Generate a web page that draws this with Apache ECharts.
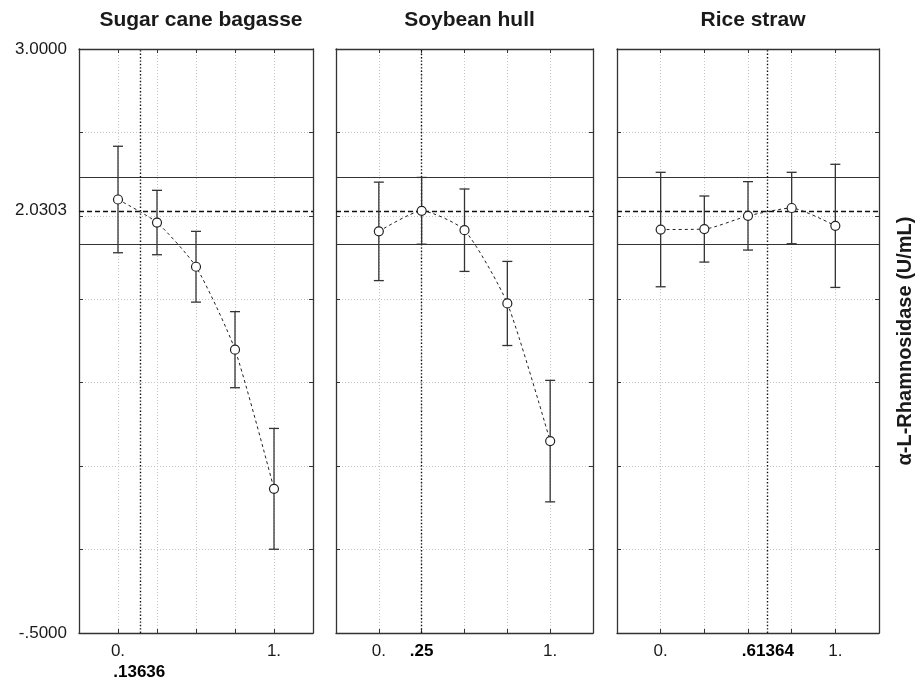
<!DOCTYPE html>
<html>
<head>
<meta charset="utf-8">
<script src="https://cdn.jsdelivr.net/npm/echarts@6/dist/echarts.min.js"></script>
<style>
  html, body { margin: 0; padding: 0; background: #fff; }
  #main { width: 916px; height: 686px; }
</style>
</head>
<body>
<div id="main"></div>
<script>
// mixture proportion of each component
const xLevels = [0, 0.25, 0.5, 0.75, 1];

// predicted activity and +/- half width of the interval, read from the profiles
const sugarMean = [2.098, 1.96, 1.695, 1.198, 0.364];
const sugarErr = [0.319, 0.193, 0.212, 0.228, 0.362];
const soyMean = [1.907, 2.0303, 1.914, 1.475, 0.65];
const soyErr = [0.295, 0.2, 0.247, 0.252, 0.364];
const riceMean = [1.918, 1.921, 2.0, 2.047, 1.94];
const riceErr = [0.343, 0.198, 0.205, 0.214, 0.369];

const panelNames = ["Sugar cane bagasse", "Soybean hull", "Rice straw"];
const optimum = [0.13636, 0.25, 0.61364];
const optimumText = [".13636", ".25", ".61364"];
const optimumValue = 2.0303;
const optimumCI = 0.2;

const yTickValues = [-0.5, 2.0303, 3.0];
const yTickText = ["-.5000", "2.0303", "3.0000"];

const means = [sugarMean, soyMean, riceMean];
const errs = [sugarErr, soyErr, riceErr];

// layout of the three panels
const grids = [
  { left: 79, top: 49, width: 234, height: 584 },
  { left: 336, top: 49, width: 257, height: 584 },
  { left: 617, top: 49, width: 262, height: 584 },
];

const txt = "#1a1a1a";
const font = "Liberation Sans, Arial, sans-serif";
const frame = { show: true, onZero: false, lineStyle: { color: "#333", width: 1.3 } };
const tick = { show: true, inside: true, length: 4, lineStyle: { color: "#333" } };
const grid_line = { show: true, showMinLine: false, showMaxLine: false, lineStyle: { color: "#c4c4c4", type: [1, 2], width: 1 } };

let chart = echarts.init(document.getElementById("main"));

let xAxes = [];
let yAxes = [];
let series = [];
let titles = [];

grids.forEach(function (g, i) {
  titles.push({
    text: panelNames[i],
    left: g.left + g.width / 2,
    top: 5,
    textAlign: "center",
    textStyle: { fontFamily: font, fontSize: 21, fontWeight: "bold", color: txt },
  });

  // bottom x axis with labels
  xAxes.push({
    type: "value",
    gridIndex: i,
    min: -0.25,
    max: 1.25,
    interval: 0.25,
    axisLine: frame,
    axisTick: tick,
    splitLine: grid_line,
    axisLabel: {
      customValues: [0, 1],
      margin: 10,
      fontFamily: font,
      fontSize: 17,
      color: txt,
      formatter: function (v) { return v === 0 ? "0." : "1."; },
    },
  });
  // top x axis, ticks only
  xAxes.push({
    type: "value",
    gridIndex: i,
    position: "top",
    min: -0.25,
    max: 1.25,
    interval: 0.25,
    axisLine: frame,
    axisTick: tick,
    splitLine: { show: false },
    axisLabel: { show: false },
  });
  // bottom axis carrying only the optimum label
  xAxes.push({
    type: "value",
    gridIndex: i,
    position: "bottom",
    min: -0.25,
    max: 1.25,
    axisLine: { show: false, onZero: false },
    axisTick: { show: false },
    splitLine: { show: false },
    axisLabel: {
      customValues: [optimum[i]],
      margin: i === 0 ? 31 : 10,
      fontFamily: font,
      fontSize: 17,
      fontWeight: "bold",
      color: "#000",
      formatter: function () { return optimumText[i]; },
    },
  });

  // left y axis
  yAxes.push({
    type: "value",
    gridIndex: i,
    min: -0.5,
    max: 3.0,
    interval: 0.5,
    axisLine: frame,
    axisTick: tick,
    splitLine: grid_line,
    axisLabel: {
      show: i === 0,
      customValues: yTickValues,
      margin: 12,
      fontFamily: font,
      fontSize: 17,
      color: txt,
      formatter: function (v) {
        let k = 0;
        yTickValues.forEach(function (t, j) {
          if (Math.abs(t - v) < Math.abs(yTickValues[k] - v)) k = j;
        });
        return yTickText[k];
      },
    },
  });
  // right y axis, ticks only (last one carries the axis name)
  yAxes.push({
    type: "value",
    gridIndex: i,
    position: "right",
    min: -0.5,
    max: 3.0,
    interval: 0.5,
    axisLine: frame,
    axisTick: tick,
    splitLine: { show: false },
    axisLabel: { show: false },
    name: i === 2 ? "α-L-Rhamnosidase (U/mL)" : "",
    nameLocation: "middle",
    nameRotate: 90,
    nameGap: 16,
    nameTextStyle: { fontFamily: font, fontSize: 20, fontWeight: "bold", color: txt },
  });

  const pts = xLevels.map(function (x, j) { return [x, means[i][j]]; });
  const bars = xLevels.map(function (x, j) { return [x, means[i][j], errs[i][j]]; });

  // error bars
  series.push({
    type: "custom",
    xAxisIndex: i * 3,
    yAxisIndex: i * 2,
    silent: true,
    z: 3,
    data: bars,
    encode: { x: 0, y: 1 },
    renderItem: function (params, api) {
      const x = api.value(0);
      const m = api.value(1);
      const e = api.value(2);
      const top = api.coord([x, m + e]);
      const bot = api.coord([x, m - e]);
      const hw = 5;
      const st = { stroke: "#333", lineWidth: 1.3 };
      return {
        type: "group",
        children: [
          { type: "line", shape: { x1: top[0], y1: top[1], x2: bot[0], y2: bot[1] }, style: st },
          { type: "line", shape: { x1: top[0] - hw, y1: top[1], x2: top[0] + hw, y2: top[1] }, style: st },
          { type: "line", shape: { x1: bot[0] - hw, y1: bot[1], x2: bot[0] + hw, y2: bot[1] }, style: st },
        ],
      };
    },
  });

  // profile line with points, plus reference lines
  series.push({
    type: "line",
    xAxisIndex: i * 3,
    yAxisIndex: i * 2,
    data: pts,
    smooth: 0.2,
    symbol: "circle",
    symbolSize: 9,
    z: 4,
    itemStyle: { color: "#fff", borderColor: "#222", borderWidth: 1.2 },
    lineStyle: { color: "#222", width: 1, type: [3, 3] },
    markLine: {
      silent: true,
      symbol: "none",
      label: { show: false },
      z: 2,
      data: [
        { yAxis: optimumValue, lineStyle: { color: "#111", width: 1.4, type: [5, 3] } },
        { yAxis: optimumValue + optimumCI, lineStyle: { color: "#333", width: 1.2, type: "solid" } },
        { yAxis: optimumValue - optimumCI, lineStyle: { color: "#333", width: 1.2, type: "solid" } },
        { xAxis: optimum[i], lineStyle: { color: "#111", width: 1.4, type: [1.4, 2] } },
      ],
    },
  });
});

const option = {
  backgroundColor: "#fff",
  animation: false,
  title: titles,
  grid: grids.map(function (g) {
    return Object.assign({ outerBoundsMode: "none", containLabel: false }, g);
  }),
  xAxis: xAxes,
  yAxis: yAxes,
  series: series,
};

chart.setOption(option);
</script>
</body>
</html>
